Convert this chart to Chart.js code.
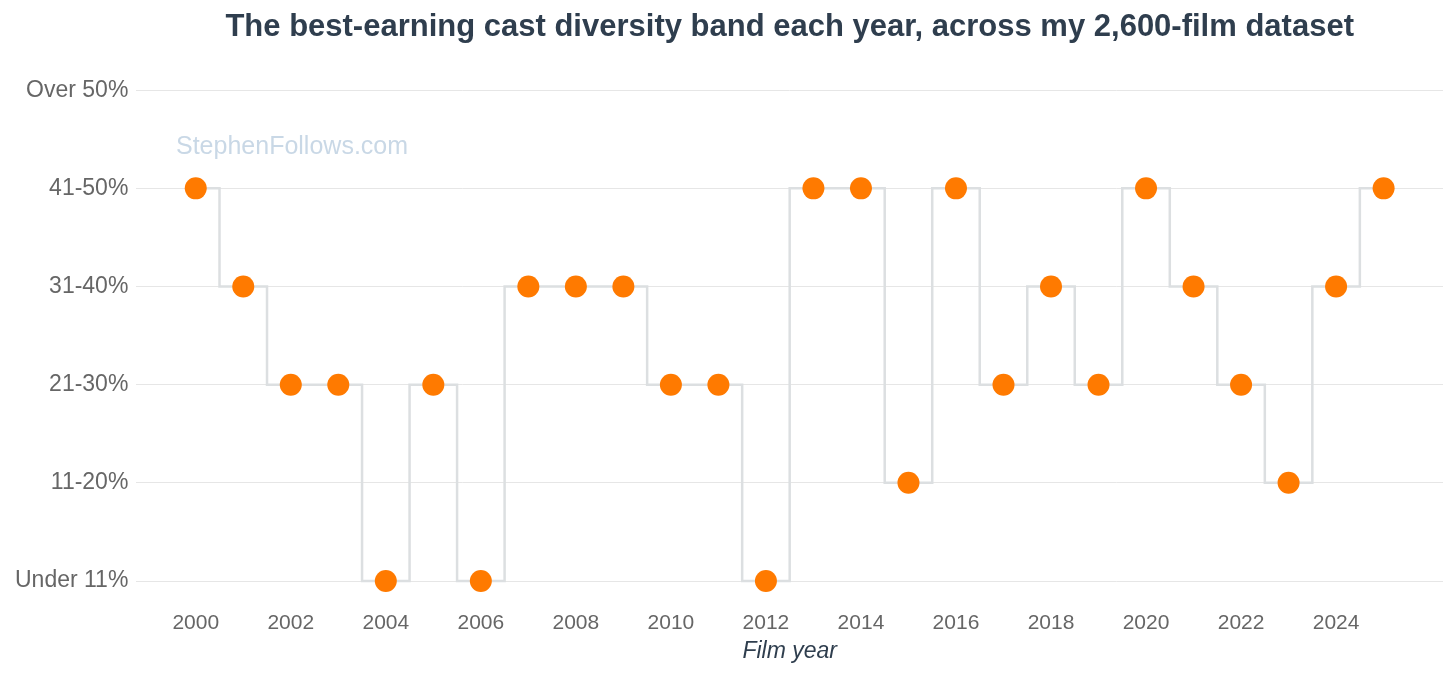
<!DOCTYPE html>
<html>
<head>
<meta charset="utf-8">
<script src="https://cdn.jsdelivr.net/npm/chart.js@4.4.1/dist/chart.umd.min.js"></script>
<style>
  html, body { margin: 0; padding: 0; background: #fff; }
  #wrap { width: 1456px; height: 675px; }
</style>
</head>
<body>
<div id="wrap"><canvas id="chart"></canvas></div>
<script>
// Data
const years = [2000, 2001, 2002, 2003, 2004, 2005, 2006, 2007, 2008, 2009, 2010, 2011, 2012,
               2013, 2014, 2015, 2016, 2017, 2018, 2019, 2020, 2021, 2022, 2023, 2024, 2025];
// band index: 0 = Under 11% ... 5 = Over 50%
const bandIndex = [4, 3, 2, 2, 0, 2, 0, 3, 3, 3, 2, 2, 0,
                   4, 4, 1, 4, 2, 3, 2, 4, 3, 2, 1, 3, 4];
const bandLabels = ['Under 11%', '11-20%', '21-30%', '31-40%', '41-50%', 'Over 50%'];
const yearTicks = [2000, 2002, 2004, 2006, 2008, 2010, 2012, 2014, 2016, 2018, 2020, 2022, 2024];

const points = years.map((y, i) => ({ x: y, y: bandIndex[i] }));

const FONT = '"Liberation Sans", Arial, sans-serif';

// watermark text drawn inside the plot area
const watermark = {
    id: 'watermark',
    afterDraw(chart) {
        const ctx = chart.ctx;
        ctx.save();
        ctx.font = '25px ' + FONT;
        ctx.fillStyle = '#c9d8e6';
        ctx.textBaseline = 'alphabetic';
        ctx.fillText('StephenFollows.com', 176, 154);
        ctx.restore();
    }
};

new Chart(document.getElementById('chart'), {
    type: 'line',
    data: {
        datasets: [{
            data: points,
            stepped: 'middle',
            borderColor: '#dcdfe1',
            borderWidth: 2.5,
            pointRadius: 11,
            pointBackgroundColor: '#ff7a00',
            pointBorderColor: '#ff7a00',
            pointBorderWidth: 0,
            fill: false,
            clip: false
        }]
    },
    options: {
        responsive: true,
        maintainAspectRatio: false,
        animation: false,
        layout: { padding: { left: 7, right: 13, top: 0, bottom: 6 } },
        plugins: {
            legend: { display: false },
            tooltip: { enabled: false },
            title: {
                display: true,
                fullSize: false,
                text: 'The best-earning cast diversity band each year, across my 2,600-film dataset',
                color: '#2f3e4e',
                font: { family: FONT, size: 31, weight: 'bold' },
                padding: { top: 9, bottom: 44 }
            }
        },
        scales: {
            x: {
                type: 'linear',
                min: 1998.75,
                max: 2026.25,
                afterBuildTicks: (axis) => {
                    axis.ticks = yearTicks.map(v => ({ value: v }));
                },
                afterFit: (axis) => {
                    // keep the axis band compact: labels + italic title
                    axis.height = 88;
                },
                grid: { display: false, drawTicks: false },
                border: { display: false },
                ticks: {
                    color: '#666',
                    font: { family: FONT, size: 21 },
                    padding: 30,
                    callback: (v) => String(v)
                },
                title: {
                    display: true,
                    text: 'Film year',
                    color: '#2f3e4e',
                    font: { family: FONT, size: 23, style: 'italic' },
                    padding: { top: 4, bottom: 4 }
                }
            },
            y: {
                min: 0,
                max: 5,
                afterBuildTicks: (axis) => {
                    axis.ticks = bandLabels.map((_, i) => ({ value: i }));
                },
                grid: { color: '#e6e6e6', lineWidth: 1, drawTicks: false },
                border: { display: false },
                ticks: {
                    color: '#666',
                    font: { family: FONT, size: 23 },
                    padding: 8,
                    callback: (v) => bandLabels[v]
                }
            }
        }
    },
    plugins: [watermark]
});
</script>
</body>
</html>
